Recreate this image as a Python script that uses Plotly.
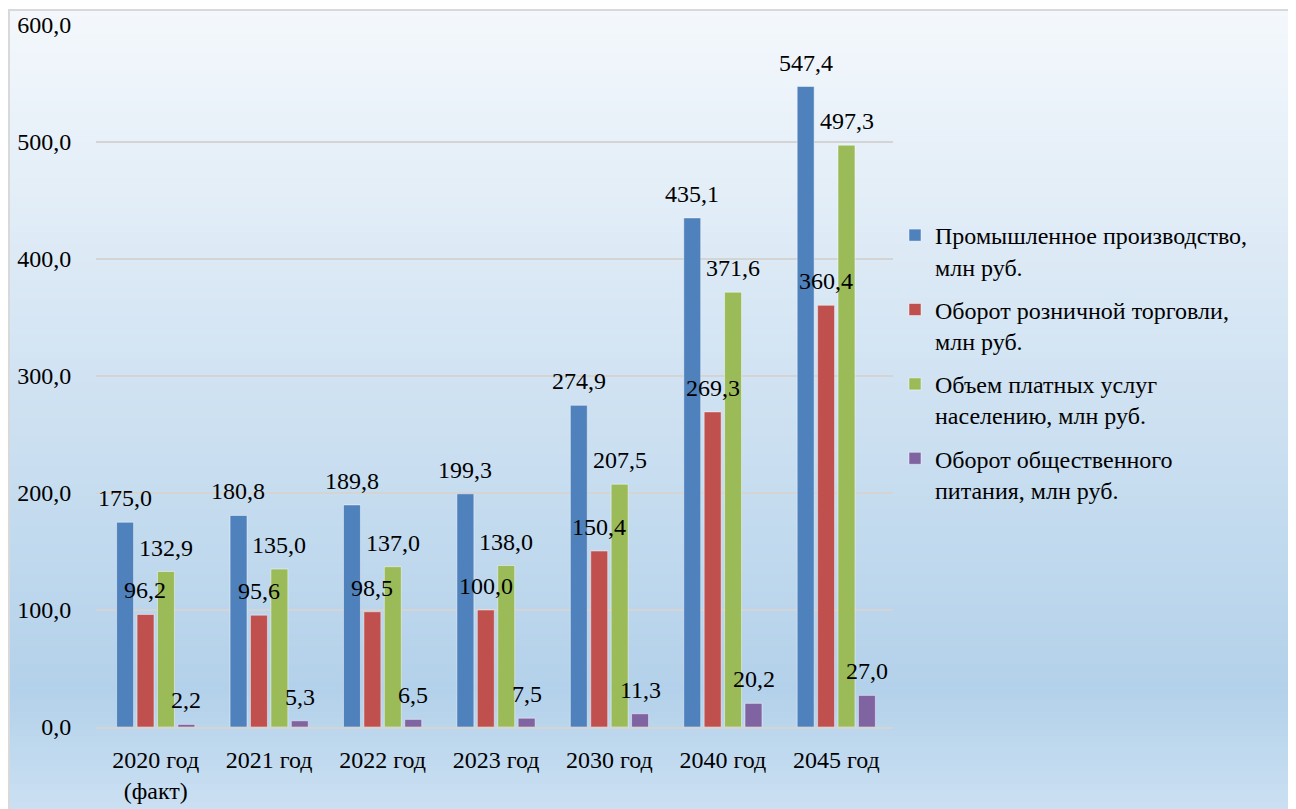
import plotly.graph_objects as go

categories = ["2020 год<br>(факт)", "2021 год", "2022 год", "2023 год", "2030 год", "2040 год", "2045 год"]
series_names = [
    "Промышленное производство,<br>млн руб.",
    "Оборот розничной торговли,<br>млн руб.",
    "Объем платных услуг<br>населению, млн руб.",
    "Оборот общественного<br>питания, млн руб.",
]
industry = [175.0, 180.8, 189.8, 199.3, 274.9, 435.1, 547.4]
retail = [96.2, 95.6, 98.5, 100.0, 150.4, 269.3, 360.4]
services = [132.9, 135.0, 137.0, 138.0, 207.5, 371.6, 497.3]
catering = [2.2, 5.3, 6.5, 7.5, 11.3, 20.2, 27.0]
y_ticks = [0, 100, 200, 300, 400, 500, 600]

colors = ["#4F81BD", "#C0504D", "#9BBB59", "#8064A2"]
all_series = [industry, retail, services, catering]

FONT = "Liberation Serif"
FS = 24
OFF = 8  # default page body margin in the written html
PL, PR, PT, PB = 96, 893, 25, 727  # plot area edges in page pixels
W, H = 1296 - OFF, 809 - OFF
L, T = PL - OFF, PT - OFF
R = W - (PR - OFF)
B = H - (PB - OFF)
plot_w = PR - PL
plot_h = PB - PT
BARGAP = 0.28
BARGROUPGAP = 0.17

fig = go.Figure()
for name, vals, col in zip(series_names, all_series, colors):
    fig.add_trace(go.Bar(
        x=categories, y=vals, name=name, legendgroup=name,
        marker=dict(color=col, line=dict(color="rgba(255,255,255,0.45)", width=1)),
    ))

slot = plot_w / len(categories) * (1 - BARGAP) / len(all_series)
annotations = []
for i, vals in enumerate(all_series):
    for c, v in zip(categories, vals):
        annotations.append(dict(
            x=c, y=v, xref="x", yref="y", text=f"{v:.1f}".replace(".", ","),
            showarrow=False, xanchor="center", yanchor="bottom",
            xshift=(i - 1.5) * slot, yshift=9,
            font=dict(family=FONT, size=FS, color="#000000"),
        ))

# page pixel -> paper coords
def py(p):
    return (PB - p) / plot_h

def px(p):
    return (p - PL) / plot_w

stops = [(10, (244, 248, 252)), (690, (179, 209, 234)), (809, (203, 224, 242))]

def col_at(p):
    for (p0, c0), (p1, c1) in zip(stops[:-1], stops[1:]):
        if p0 <= p <= p1:
            t = (p - p0) / (p1 - p0)
            return "rgb(%d,%d,%d)" % tuple(round(a + (b - a) * t) for a, b in zip(c0, c1))
    return "rgb(%d,%d,%d)" % stops[-1][1]

shapes = []
step = 6
p = 10
while p < 815:
    shapes.append(dict(
        type="rect", xref="paper", yref="paper", layer="below",
        x0=px(8), x1=px(1310), y0=py(p + step + 1), y1=py(p),
        fillcolor=col_at(p + step / 2), line=dict(width=0),
    ))
    p += step
shapes.append(dict(
    type="rect", xref="paper", yref="paper", layer="below",
    x0=px(9), x1=px(1320), y0=py(830), y1=py(10),
    fillcolor="rgba(0,0,0,0)", line=dict(color="#D9D9D9", width=2),
))

fig.update_layout(
    width=W, height=H,
    margin=dict(l=L, r=R, t=T, b=B, pad=0, autoexpand=False),
    paper_bgcolor="#FFFFFF", plot_bgcolor="rgba(0,0,0,0)",
    barmode="group", bargap=BARGAP, bargroupgap=BARGROUPGAP,
    separators=", ",
    font=dict(family=FONT, size=FS, color="#000000"),
    showlegend=True,
    legend=dict(
        x=px(895), y=py(213), xanchor="left", yanchor="top", valign="top",
        bgcolor="rgba(0,0,0,0)", font=dict(family=FONT, size=FS, color="#000000"),
        tracegroupgap=9, itemwidth=30,
    ),
    annotations=annotations,
    shapes=shapes,
)
fig.update_yaxes(
    range=[0, 600], tickvals=y_ticks, tickformat=".1f", automargin=False,
    showgrid=True, gridcolor="#D4D4D4", gridwidth=2,
    zeroline=False, showline=False,
    ticks="outside", ticklen=19, tickcolor="rgba(0,0,0,0)",
    tickfont=dict(family=FONT, size=FS, color="#000000"),
)
fig.update_xaxes(
    automargin=False,
    showgrid=False, showline=True, linecolor="#D4D4D4", linewidth=2,
    ticks="outside", ticklen=10, tickcolor="rgba(0,0,0,0)",
    tickfont=dict(family=FONT, size=FS, color="#000000"),
    tickangle=0,
)

fig.write_html("out.html")
